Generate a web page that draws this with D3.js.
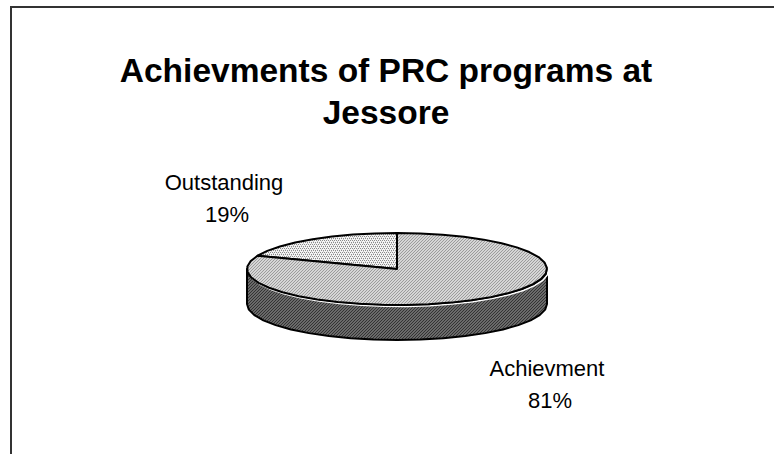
<!DOCTYPE html>
<html>
<head>
<meta charset="utf-8">
<script src="https://cdn.jsdelivr.net/npm/d3@7"></script>
<style>
  html, body { margin: 0; padding: 0; background: #fff; }
  svg { display: block; }
  text { font-family: "Liberation Sans", Arial, Helvetica, sans-serif; fill: #000; }
</style>
</head>
<body>
<svg id="chart" width="774" height="454"></svg>
<script>
// ---- data ----
const titleLines = ["Achievments of PRC programs at", "Jessore"];
const categories = ["Outstanding", "Achievment"];
const values = [19, 81];
const percentLabels = ["19%", "81%"];

// ---- layout ----
const W = 774, H = 454;
const cx = 397, cy = 269, rx = 150, ry = 36, depth = 35;

const svg = d3.select("#chart");

// patterns
const defs = svg.append("defs");
const pDots = defs.append("pattern").attr("id", "pDots").attr("width", 4).attr("height", 4)
  .attr("patternUnits", "userSpaceOnUse");
pDots.append("rect").attr("width", 4).attr("height", 4).attr("fill", "#f4f4f4");
[[0,0],[2,0],[1,2],[3,2]].forEach(([x,y]) =>
  pDots.append("rect").attr("x", x).attr("y", y).attr("width", 1).attr("height", 1).attr("fill", "#8a8a8a"));
[[1,1],[3,3]].forEach(([x,y]) =>
  pDots.append("rect").attr("x", x).attr("y", y).attr("width", 1).attr("height", 1).attr("fill", "#c8c8c8"));

function hatch(id, bg, fg) {
  const p = defs.append("pattern").attr("id", id).attr("width", 3).attr("height", 3)
    .attr("patternUnits", "userSpaceOnUse");
  p.append("rect").attr("width", 3).attr("height", 3).attr("fill", bg);
  p.append("path").attr("d", "M0,3 L3,0 M-1,1 L1,-1 M2,4 L4,2").attr("stroke", fg).attr("stroke-width", 1);
}
hatch("pTop", "#d6d6d6", "#9c9c9c");
hatch("pSide", "#6a6a6a", "#333333");

// frame
svg.append("path")
  .attr("d", `M11,${H} V7 H${W}`)
  .attr("fill", "none").attr("stroke", "#333").attr("stroke-width", 2);

// title
const title = svg.append("text").attr("text-anchor", "middle")
  .attr("font-size", 33.5).attr("font-weight", "bold");
titleLines.forEach((t, i) =>
  title.append("tspan").attr("x", 386).attr("y", 82 + i * 42).text(t));

// pie
const pie = d3.pie().sort(null).value(d => d)
  .startAngle(-2 * Math.PI * values[0] / d3.sum(values));
const arcs = pie(values);

const sx = d3.scaleLinear().domain([-1, 1]).range([cx - rx, cx + rx]);
const sy = d3.scaleLinear().domain([-1, 1]).range([cy - ry, cy + ry]);
const pt = (a, dz = 0) => [sx(Math.sin(a)), sy(-Math.cos(a)) + dz];
const STEP = Math.PI / 20;
function ring(a0, a1, dz = 0) {
  const n = Math.max(1, Math.ceil((a1 - a0) / STEP));
  return d3.range(n + 1).map(i => pt(a0 + (a1 - a0) * i / n, dz));
}
const line = d3.line();

const fills = ["url(#pDots)", "url(#pTop)"];
const gPie = svg.append("g");

// side walls (front visible part: angles PI/2 .. 3PI/2)
const sidePaths = [];
arcs.forEach(d => {
  const lo = Math.max(d.startAngle, Math.PI / 2), hi = Math.min(d.endAngle, 3 * Math.PI / 2);
  const lo2 = Math.max(d.startAngle + 2 * Math.PI, Math.PI / 2), hi2 = Math.min(d.endAngle + 2 * Math.PI, 3 * Math.PI / 2);
  [[lo, hi], [lo2, hi2]].forEach(([a, b]) => {
    if (b > a) {
      const top = ring(a, b, 0), bot = ring(a, b, depth).reverse();
      sidePaths.push(line(top.concat(bot)) + "Z");
    }
  });
});
// offset white edge (emboss)
sidePaths.forEach(p => gPie.append("path").attr("d", p).attr("transform", "translate(1.5,1.5)")
  .attr("fill", "none").attr("stroke", "#fff").attr("stroke-width", 1.5));
sidePaths.forEach(p => gPie.append("path").attr("d", p)
  .attr("fill", "url(#pSide)").attr("stroke", "#000").attr("stroke-width", 2).attr("stroke-linejoin", "round"));

// top faces
const topPaths = arcs.map(d => line([[cx, cy]].concat(ring(d.startAngle, d.endAngle))) + "Z");
topPaths.forEach(p => gPie.append("path").attr("d", p).attr("transform", "translate(1.5,1.5)")
  .attr("fill", "none").attr("stroke", "#fff").attr("stroke-width", 1.5));
topPaths.forEach((p, i) => gPie.append("path").attr("d", p)
  .attr("fill", fills[i]).attr("stroke", "#000").attr("stroke-width", 2).attr("stroke-linejoin", "round"));

// labels
const labelPos = [[224, 190], [547, 376]];
categories.forEach((c, i) => {
  const t = svg.append("text").attr("text-anchor", "middle").attr("font-size", 22);
  t.append("tspan").attr("x", labelPos[i][0]).attr("y", labelPos[i][1]).text(c);
  t.append("tspan").attr("x", labelPos[i][0] + 3).attr("y", labelPos[i][1] + 32).text(percentLabels[i]);
});
</script>
</body>
</html>
